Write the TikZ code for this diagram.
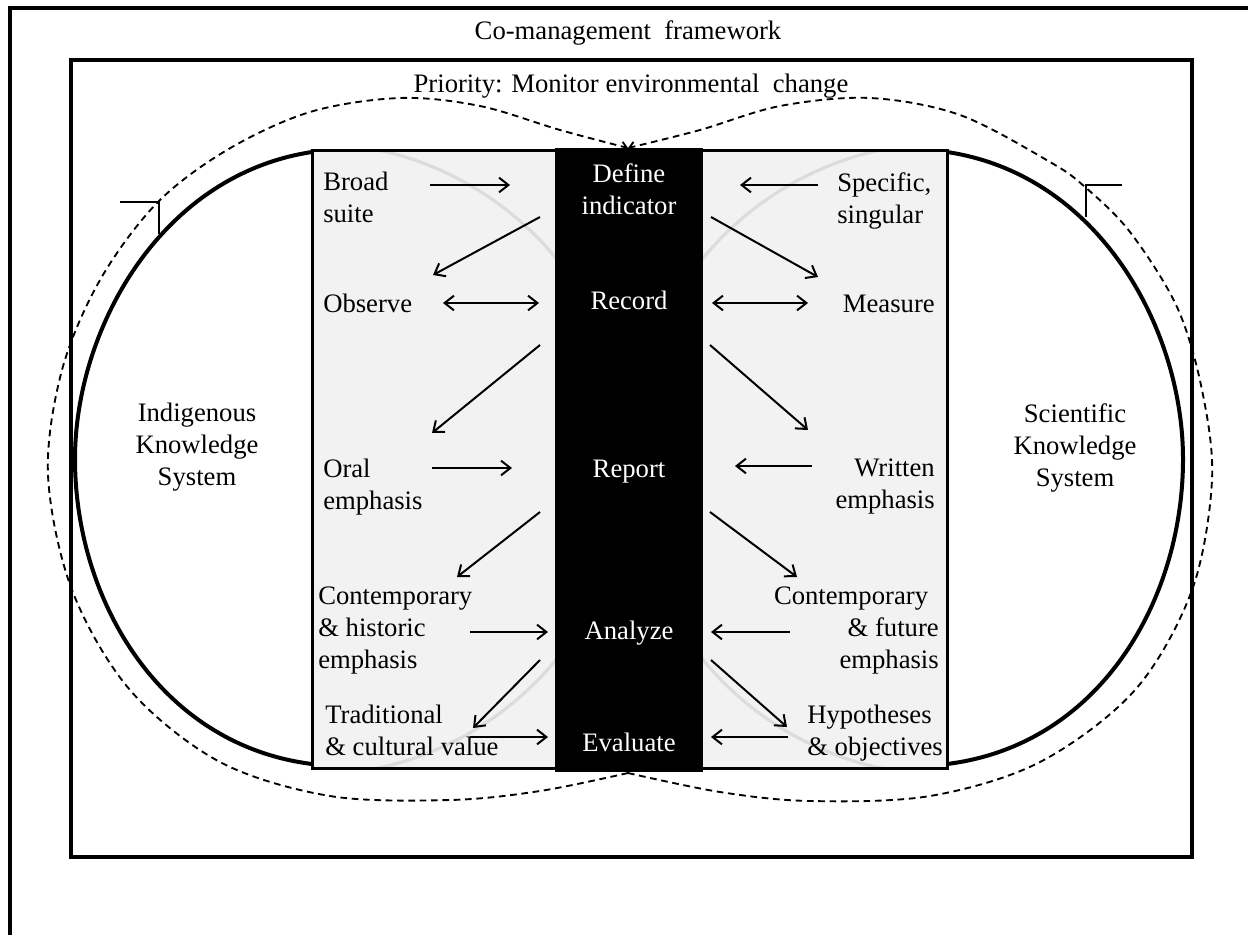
\documentclass[tikz,border=0pt]{standalone}
\usepackage{fontspec}
\setmainfont{Liberation Serif}
\usetikzlibrary{arrows.meta}
\definecolor{panel}{HTML}{F2F2F2}
\definecolor{venn}{HTML}{DCDCDC}
\begin{document}
\begin{tikzpicture}[x=0.75pt,y=-0.75pt,
  lbl/.style={font=\fontsize{20}{24}\selectfont, inner sep=0pt},
  wlbl/.style={lbl, text=white},
  arr/.style={line width=1.5pt, -{Straight Barb[length=7pt,width=11pt]}},
  darr/.style={line width=1.5pt, {Straight Barb[length=7pt,width=11pt]}-{Straight Barb[length=7pt,width=11pt]}},
  frame/.style={line width=3pt},
  dsh/.style={line width=1.4pt, dash pattern=on 5pt off 3.5pt},
  tickmark/.style={line width=2pt},
  vennline/.style={draw=venn, line width=2.4pt}]
\useasboundingbox (0,0) rectangle (1248,935);
\fill[white] (0,0) rectangle (1248,935);
% frames
\draw[frame] (10,935) -- (10,8) -- (1248,8);
\draw[frame] (71,60) rectangle (1192,857);
% solid knowledge-system arcs
\draw[frame] (312,152) .. controls (160,175) and (75,330) .. (75,459) .. controls (75,600) and (160,745) .. (312,764);
\draw[frame] (947,152) .. controls (1100,175) and (1183,330) .. (1183,459) .. controls (1183,600) and (1100,745) .. (947,764);
% central panel
\fill[panel] (312,150) rectangle (947,768);
\begin{scope}
  \clip (312,150) rectangle (947,768);
  \draw[vennline] (312,459) circle [radius=237pt];
  \draw[vennline] (947,459) circle [radius=237pt];
\end{scope}
\draw[line width=2.25pt] (312,150) rectangle (947,768);
\fill[black] (555,148) rectangle (703,772);
% dashed cycles
\coordinate (dtop) at (628,148);
\coordinate (dbot) at (628,773);
\draw[dsh, -{Straight Barb[length=4pt,width=7pt]}] plot[smooth, tension=0.55] coordinates {(628,773) (540,791) (450,800) (330,796) (220,762) (130,690) (72,590) (48,475) (62,370) (100,280) (157,203) (227,150) (310,112) (400,98) (480,106) (560,130) (628,148)};
\draw[dsh, -{Straight Barb[length=4pt,width=7pt]}] plot[smooth, tension=0.55] coordinates {(628,773) (720,792) (810,801) (930,796) (1040,762) (1135,690) (1192,590) (1212,480) (1202,390) (1177,307) (1130,232) (1085,187) (1050,162) (960,115) (870,98) (780,106) (700,130) (628,148)};
% direction marks
\draw[tickmark] (120,202) -- (159,202) -- (159,234);
\draw[tickmark] (1122,185) -- (1086,185) -- (1086,217);
% titles
\node[lbl, anchor=base] (cm) at (628,39) {Co-management\ \ framework};
\node[lbl, anchor=base] (pr) at (631,92) {Priority: Monitor environmental\ \ change};
% central steps
\node[wlbl, anchor=north, align=center] (def) at (629,163) {Define\\indicator};
\node[wlbl, anchor=base] (rec) at (629,309) {Record};
\node[wlbl, anchor=base] (rep) at (629,477) {Report};
\node[wlbl, anchor=base] (ana) at (629,639) {Analyze};
\node[wlbl, anchor=base] (eva) at (629,751) {Evaluate};
% left side
\node[lbl, anchor=north west, align=left] (broad) at (323,172) {Broad\\suite};
\node[lbl, anchor=base west] (obs) at (323,312) {Observe};
\node[lbl, anchor=north west, align=left] (oral) at (323,459) {Oral\\emphasis};
\node[lbl, anchor=north west, align=left] (conh) at (318,587) {Contemporary\\\& historic\\emphasis};
\node[lbl, anchor=north west, align=left] (trad) at (325,705) {Traditional\\\& cultural value};
% right side
\node[lbl, anchor=north west, align=left] (spec) at (837,172) {Specific,\\singular};
\node[lbl, anchor=base east] (meas) at (935,312) {Measure};
\node[lbl, anchor=north east, align=right] (writ) at (935,459) {Written\\emphasis};
\node[lbl, anchor=north east, align=right] (conf) at (939,587) {Contemporary\hspace*{8pt}\\\& future\\emphasis};
\node[lbl, anchor=north west, align=left] (hyp) at (807,705) {Hypotheses\\\& objectives};
% systems
\node[lbl, anchor=north, align=center] (iks) at (197,403) {Indigenous\\Knowledge\\System};
\node[lbl, anchor=north, align=center] (sks) at (1075,403) {Scientific\\Knowledge\\System};
% arrow end points
\coordinate (a1s) at (430,185); \coordinate (a1e) at (510,185);
\coordinate (a2s) at (540,217); \coordinate (a2e) at (433,275);
\coordinate (a3s) at (443,303); \coordinate (a3e) at (539,303);
\coordinate (a4s) at (818,185); \coordinate (a4e) at (740,185);
\coordinate (a5s) at (711,217); \coordinate (a5e) at (818,277);
\coordinate (a6s) at (712,303); \coordinate (a6e) at (808,303);
\coordinate (a7s) at (540,345); \coordinate (a7e) at (432,433);
\coordinate (a8s) at (710,345); \coordinate (a8e) at (808,430);
\coordinate (a9s) at (432,468); \coordinate (a9e) at (512,468);
\coordinate (a10s) at (812,466); \coordinate (a10e) at (735,466);
\coordinate (a11s) at (540,512); \coordinate (a11e) at (457,577);
\coordinate (a12s) at (710,512); \coordinate (a12e) at (797,577);
\coordinate (a13s) at (470,632); \coordinate (a13e) at (548,632);
\coordinate (a14s) at (790,632); \coordinate (a14e) at (711,632);
\coordinate (a15s) at (540,660); \coordinate (a15e) at (473,728);
\coordinate (a16s) at (711,660); \coordinate (a16e) at (787,727);
\coordinate (a17s) at (470,737); \coordinate (a17e) at (548,737);
\coordinate (a18s) at (788,737); \coordinate (a18e) at (711,737);
\draw[arr] (a1s) -- (a1e);
\draw[arr] (a2s) -- (a2e);
\draw[darr] (a3s) -- (a3e);
\draw[arr] (a4s) -- (a4e);
\draw[arr] (a5s) -- (a5e);
\draw[darr] (a6s) -- (a6e);
\draw[arr] (a7s) -- (a7e);
\draw[arr] (a8s) -- (a8e);
\draw[arr] (a9s) -- (a9e);
\draw[arr] (a10s) -- (a10e);
\draw[arr] (a11s) -- (a11e);
\draw[arr] (a12s) -- (a12e);
\draw[arr] (a13s) -- (a13e);
\draw[arr] (a14s) -- (a14e);
\draw[arr] (a15s) -- (a15e);
\draw[arr] (a16s) -- (a16e);
\draw[arr] (a17s) -- (a17e);
\draw[arr] (a18s) -- (a18e);
\end{tikzpicture}
\end{document}
